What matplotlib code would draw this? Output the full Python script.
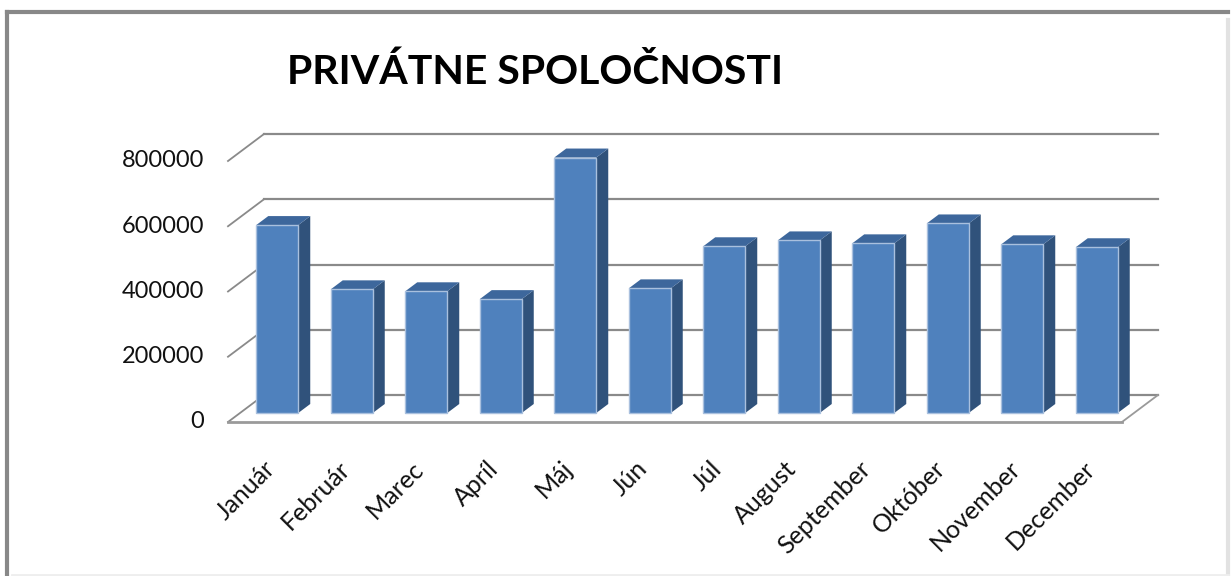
import matplotlib
matplotlib.use('Agg')
import matplotlib.pyplot as plt
from matplotlib.patches import Polygon, Rectangle
from matplotlib.lines import Line2D
from matplotlib.transforms import offset_copy

# data
months = ['Január', 'Február', 'Marec', 'Apríl', 'Máj', 'Jún', 'Júl',
          'August', 'September', 'Október', 'November', 'December']
values = [576000, 379000, 373000, 349000, 783000, 382000, 511000,
          529000, 520000, 581000, 517000, 508000]
yticks = [0, 200000, 400000, 600000, 800000]
title = 'PRIVÁTNE SPOLOČNOSTI'

plt.rcParams['font.family'] = ['Lato', 'DejaVu Sans']

W, H = 1231, 576
fig = plt.figure(figsize=(W / 100, H / 100), dpi=100)
fig.patch.set_facecolor('white')

# axes = plane of the bar front faces (pixel box)
left, right, bottom, top = 240, 1134, 413, 152
ax = fig.add_axes([left / W, 1 - bottom / H, (right - left) / W, (bottom - top) / H])
ax.set_xlim(-0.5, 11.5)
ax.set_ylim(0, 800000)
ax.axis('off')

ux = (right - left) / 12.0
uy = (bottom - top) / 800000.0


def dep(k):
    # depth offset in data units, k in thirds of the full depth
    return 12 * k / ux, 9 * k / uy


grid_c = '#8a8a8a'
bx, by = dep(2)
fx, fy = dep(-1)
x0, x1 = -0.5, 11.5

# back wall gridlines + left wall diagonals
for t in yticks:
    ax.add_line(Line2D([x0 + bx, x1 + bx], [t + by, t + by], color=grid_c, lw=1.6,
                       clip_on=False, zorder=1))
    ax.add_line(Line2D([x0 + fx, x0 + bx], [t + fy, t + by], color=grid_c, lw=1.3,
                       clip_on=False, zorder=1))
    ax.text(x0 + fx, t + fy, str(t), ha='right', va='center', fontsize=17, color='#111111',
            transform=offset_copy(ax.transData, fig, x=-24, y=0, units='dots'))

# floor
ax.add_line(Line2D([x0 + fx, x1 + fx], [fy, fy], color='#9a9a9a', lw=2,
                   clip_on=False, zorder=1))
ax.add_line(Line2D([x1 + fx, x1 + bx], [fy, by], color='#9a9a9a', lw=1.3,
                   clip_on=False, zorder=1))

# bars
w = 42 / ux
dx, dy = dep(1)
for i, v in enumerate(values):
    l, r = i - w / 2, i + w / 2
    side = Polygon([(r, 0), (r + dx, dy), (r + dx, v + dy), (r, v)], closed=True,
                   facecolor='#30527b', edgecolor='none', zorder=3, clip_on=False)
    topf = Polygon([(l, v), (l + dx, v + dy), (r + dx, v + dy), (r, v)], closed=True,
                   facecolor='#3d679c', edgecolor='none', zorder=3, clip_on=False)
    front = Rectangle((l, 0), w, v, facecolor='#4f81bd', edgecolor='#a9c0de', lw=1,
                      zorder=4, clip_on=False)
    ax.add_patch(side)
    ax.add_patch(topf)
    ax.add_patch(front)
    ax.text(i, 0, months[i], rotation=45, rotation_mode='anchor', ha='right', va='center',
            fontsize=18, color='#111111',
            transform=offset_copy(ax.transData, fig, x=-6, y=-52, units='dots'))

# title
fig.text(535 / W, 1 - 72 / H, title, ha='center', va='center', fontsize=29.5,
         fontweight='bold', color='black')

# chart frame
fig.add_artist(Line2D([7 / W, 7 / W], [1 - 12 / H, 0], color='#888888', lw=3,
                      transform=fig.transFigure))
fig.add_artist(Line2D([7 / W, 1228 / W], [1 - 12 / H, 1 - 12 / H], color='#888888', lw=3,
                      transform=fig.transFigure))
fig.add_artist(Line2D([1228 / W, 1228 / W], [1 - 20 / H, 0], color='#e2e2e2', lw=3,
                      transform=fig.transFigure))
fig.add_artist(Line2D([12 / W, 1228 / W], [1 - 575 / H, 1 - 575 / H], color='#eeeeee', lw=2,
                      transform=fig.transFigure))

fig.savefig('out.png', dpi=100)
